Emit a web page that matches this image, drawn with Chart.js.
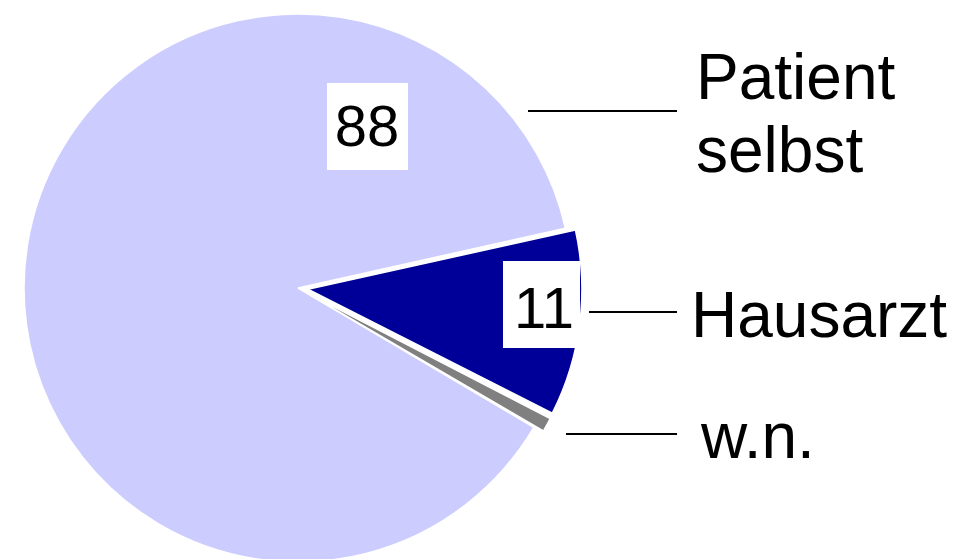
<!DOCTYPE html>
<html>
<head>
<meta charset="utf-8">
<script src="https://cdn.jsdelivr.net/npm/chart.js@4/dist/chart.umd.min.js"></script>
<style>
    body { margin: 0; background: #fff; }
</style>
</head>
<body>
<canvas id="pieChart" width="957" height="559"></canvas>
<script>
// Chart data
const categories = ['Patient selbst', 'Hausarzt', 'w.n.'];
const categoryLines = [['Patient', 'selbst'], ['Hausarzt'], ['w.n.']];
const values = [88, 11, 1];
const showValue = [true, true, false];
const sliceColors = ['#ccccff', '#000099', '#808080'];
const sliceOffsets = [0, 40, 40];

// Where the labels go (text, leader line, value box)
const labelStyle = [
    { textX: 696, baselines: [99, 172], line: [528, 677, 111], box: [327, 83, 81, 87], valueX: 367, valueBase: 146 },
    { textX: 691, baselines: [337], line: [589, 677, 312], box: [503, 261, 77, 87], valueX: 544, valueBase: 328 },
    { textX: 701, baselines: [458], line: [566, 677, 434], box: null, valueX: 0, valueBase: 0 }
];

const fontFamily = '"Liberation Sans", Arial, sans-serif';

// Keep exploded slices at the same radius (Chart.js grows them a bit)
const keepRadius = {
    id: 'keepRadius',
    beforeDatasetsDraw(chart) {
        const meta = chart.getDatasetMeta(0);
        const base = meta.controller.outerRadius;
        meta.data.forEach((arc, i) => {
            const off = (sliceOffsets[i] || 0) / 4;
            const fix = 1 - Math.sin(Math.min(Math.PI, arc.circumference));
            arc.outerRadius = base - off * fix;
        });
    }
};

// Labels with leader lines and white value boxes
const pieLabels = {
    id: 'pieLabels',
    afterDatasetsDraw(chart) {
        const ctx = chart.ctx;
        ctx.save();
        labelStyle.forEach((s, i) => {
            // leader line
            ctx.strokeStyle = '#000';
            ctx.lineWidth = 2;
            ctx.beginPath();
            ctx.moveTo(s.line[0], s.line[2]);
            ctx.lineTo(s.line[1], s.line[2]);
            ctx.stroke();

            // category text
            ctx.fillStyle = '#000';
            ctx.font = '64px ' + fontFamily;
            ctx.textAlign = 'left';
            ctx.textBaseline = 'alphabetic';
            categoryLines[i].forEach((t, k) => {
                ctx.fillText(t, s.textX, s.baselines[k]);
            });

            // value box
            if (showValue[i] && s.box) {
                ctx.fillStyle = '#fff';
                ctx.fillRect(s.box[0], s.box[1], s.box[2], s.box[3]);
                ctx.fillStyle = '#000';
                ctx.font = '58px ' + fontFamily;
                ctx.textAlign = 'center';
                ctx.fillText(String(values[i]), s.valueX, s.valueBase);
            }
        });
        ctx.restore();
    }
};

const ctx = document.getElementById('pieChart').getContext('2d');
const pieChart = new Chart(ctx, {
    type: 'pie',
    data: {
        labels: categories,
        datasets: [{
            data: values,
            backgroundColor: sliceColors,
            borderColor: '#ffffff',
            borderWidth: 1.5,
            offset: sliceOffsets,
            hoverOffset: 0
        }]
    },
    options: {
        responsive: false,
        animation: false,
        events: [],
        rotation: 120.6,
        radius: 274,
        layout: {
            padding: { left: 0, right: 361, top: 17, bottom: 0 }
        },
        plugins: {
            legend: { display: false },
            tooltip: { enabled: false }
        }
    },
    plugins: [keepRadius, pieLabels]
});
</script>
</body>
</html>
